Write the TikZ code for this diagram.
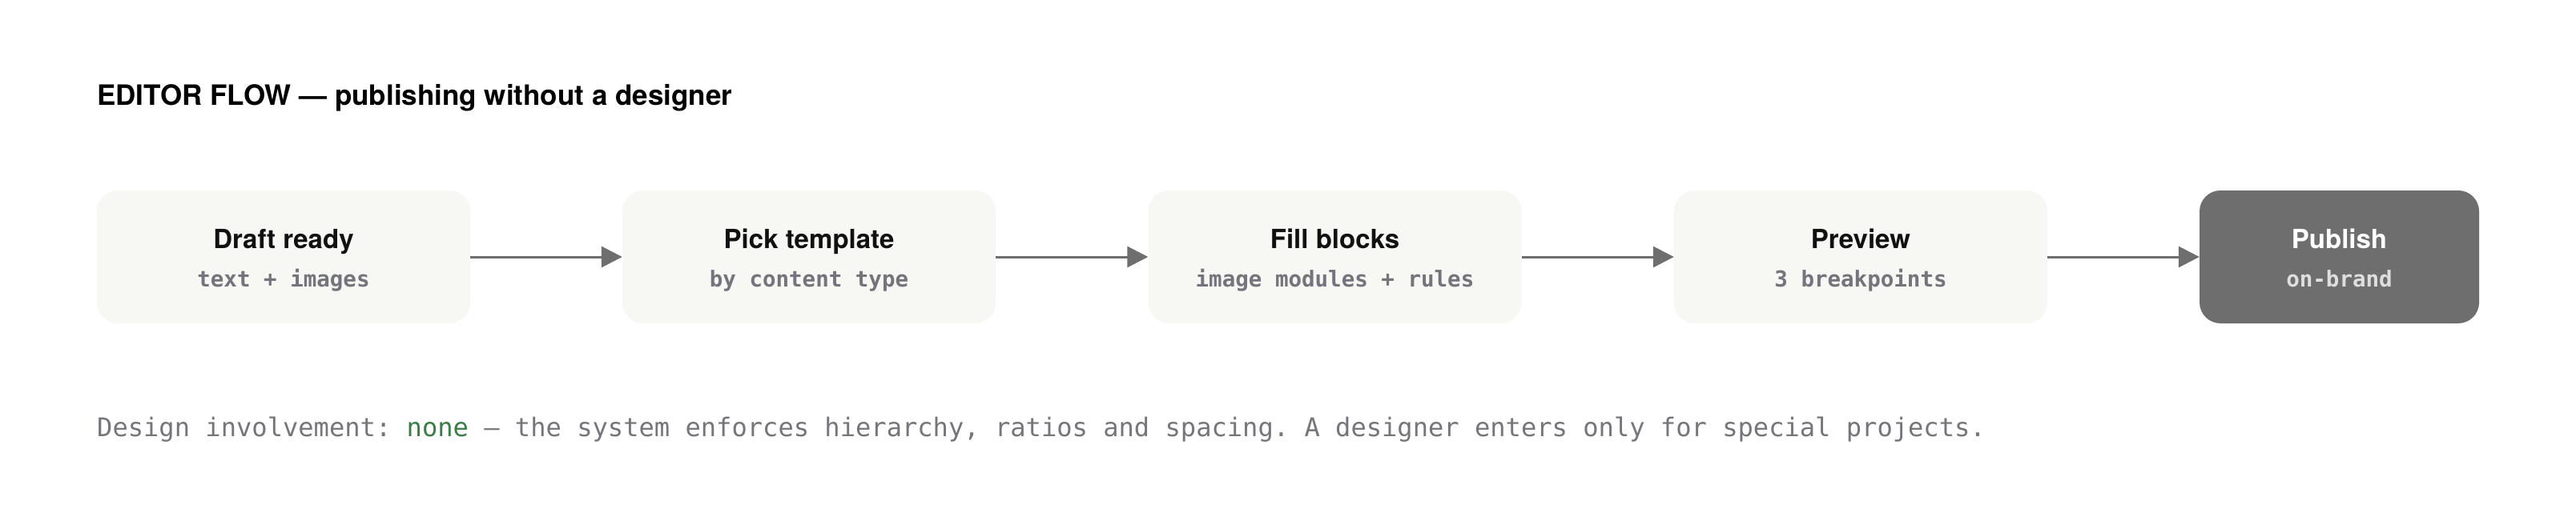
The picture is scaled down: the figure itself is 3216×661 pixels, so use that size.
\documentclass[tikz,border=0pt]{standalone}
\usepackage{fontspec}
\setmainfont{TeX Gyre Heros}
\newfontfamily\monof{DejaVu Sans Mono}
\usetikzlibrary{arrows.meta}
\definecolor{boxfill}{HTML}{F7F7F3}
\definecolor{darkbox}{HTML}{6E6E6E}
\definecolor{arrowgray}{HTML}{6E6E6E}
\definecolor{subgray}{HTML}{74747D}
\definecolor{notegray}{HTML}{75757C}
\definecolor{notegreen}{HTML}{3B7D46}
\definecolor{titleblack}{HTML}{111111}
\frenchspacing
\begin{document}
\begin{tikzpicture}[x=1pt,y=-1pt,
  stepbox/.style={rectangle, rounded corners=26pt, fill=boxfill, draw=none, minimum width=466pt, minimum height=166pt, inner sep=0pt},
  finalbox/.style={stepbox, fill=darkbox, minimum width=349pt},
  steptitle/.style={anchor=base, inner sep=0pt, text=titleblack, font=\bfseries\fontsize{33}{40}\selectfont},
  stepsub/.style={anchor=base, inner sep=0pt, text=subgray, font=\monof\bfseries\fontsize{27.5}{33}\selectfont},
  arr/.style={draw=arrowgray, line width=3pt, -{Triangle[length=26pt,width=26pt]}, shorten >=0pt}
]
\useasboundingbox[fill=white] (0,0) rectangle (3216,661);

\node[anchor=base west, inner sep=0pt, text=black, font=\bfseries\fontsize{35}{42}\selectfont] (title) at (121,131) {EDITOR FLOW — publishing without a designer};

\node[stepbox] (b1) at (354,321) {};
\node[stepbox] (b2) at (1010,321) {};
\node[stepbox] (b3) at (1666.5,321) {};
\node[stepbox] (b4) at (2323,321) {};
\node[finalbox] (b5) at (2920.5,321) {};

\node[steptitle] (t1) at (354,310) {Draft ready};
\node[stepsub] (s1) at (354,358) {text + images};
\node[steptitle] (t2) at (1010,310) {Pick template};
\node[stepsub] (s2) at (1010,358) {by content type};
\node[steptitle] (t3) at (1666.5,310) {Fill blocks};
\node[stepsub] (s3) at (1666.5,358) {image modules + rules};
\node[steptitle] (t4) at (2323,310) {Preview};
\node[stepsub] (s4) at (2323,358) {3 breakpoints};
\node[steptitle, text=white] (t5) at (2920.5,310) {Publish};
\node[stepsub, text=black!13] (s5) at (2920.5,358) {on-brand};

\draw[arr] (b1.east) -- (b2.west);
\draw[arr] (b2.east) -- (b3.west);
\draw[arr] (b3.east) -- (b4.west);
\draw[arr] (b4.east) -- (b5.west);

\node[anchor=base west, inner sep=0pt, text=notegray, font=\monof\fontsize{32.1}{38}\selectfont] (note) at (121,545) {Design involvement: \textcolor{notegreen}{none} — the system enforces hierarchy, ratios and spacing. A designer enters only for special projects.};
\end{tikzpicture}
\end{document}
